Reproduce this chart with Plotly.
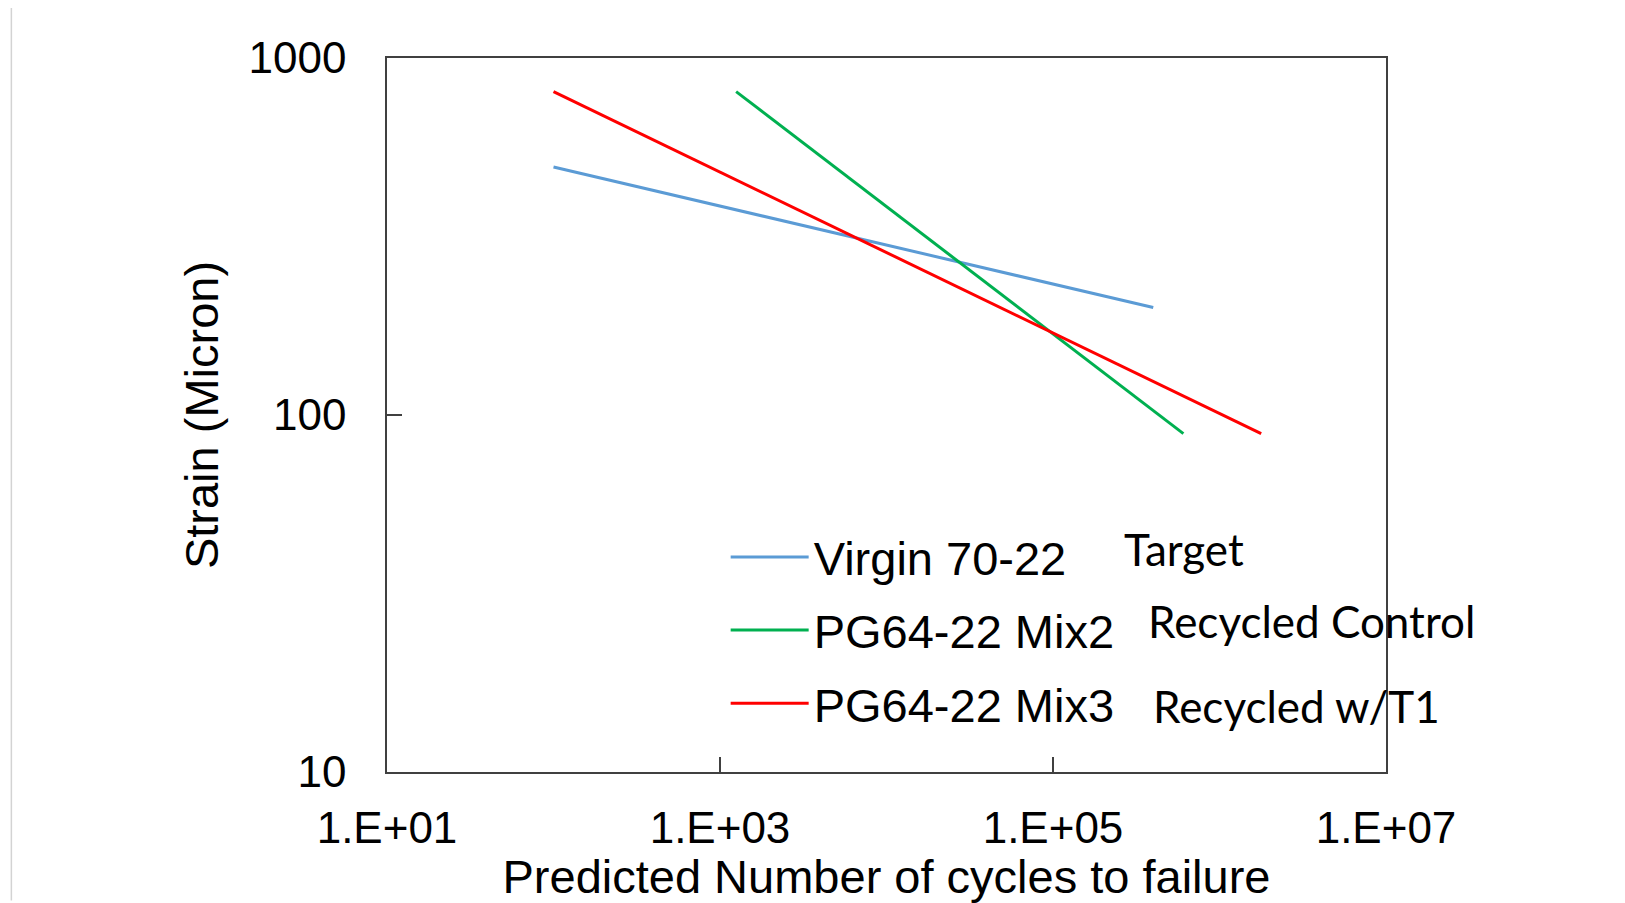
import plotly.graph_objects as go

# Data (log-log)
series_names = ["Virgin 70-22", "PG64-22 Mix2", "PG64-22 Mix3"]
virgin_cycles = [100, 4.0e5]
virgin_strain = [495, 200]
mix2_cycles = [1250, 6.07e5]
mix2_strain = [805, 88.7]
mix3_cycles = [100, 1.78e6]
mix3_strain = [805, 88.7]
colors = ["#5B9BD5", "#00B050", "#FF0000"]

x_tickvals = [1e1, 1e3, 1e5, 1e7]
x_ticktext = ["1.E+01", "1.E+03", "1.E+05", "1.E+07"]
y_tickvals = [10, 100, 1000]
y_ticktext = ["10", "100", "1000"]

notes = ["Target", "Recycled Control", "Recycled w/T1"]

AX_FONT = "Liberation Sans, Arial, sans-serif"
NOTE_FONT = "Lato, Carlito, Calibri, sans-serif"

fig = go.Figure()
for i, (name, xs, ys) in enumerate(zip(series_names,
                                       [virgin_cycles, mix2_cycles, mix3_cycles],
                                       [virgin_strain, mix2_strain, mix3_strain])):
    fig.add_trace(go.Scatter(x=xs, y=ys, mode="lines", name=name,
                             legendgroup=f"g{i}",
                             line=dict(color=colors[i], width=3)))

fig.update_layout(
    width=1625, height=903,
    margin=dict(l=387, r=239, t=58, b=131),
    paper_bgcolor="white", plot_bgcolor="white",
    font=dict(family=AX_FONT, color="black", size=44),
    showlegend=True,
    legend=dict(x=0.339, y=0.353, xanchor="left", yanchor="top",
                bgcolor="rgba(0,0,0,0)", font=dict(size=47, family=AX_FONT),
                traceorder="grouped", tracegroupgap=9, itemwidth=78),
    xaxis=dict(type="log", range=[1, 7], tickvals=x_tickvals, ticktext=x_ticktext,
               ticks="inside", ticklen=15, tickcolor="#404040", tickwidth=1.5,
               showline=True, linecolor="#404040", linewidth=1.5, mirror=True,
               showgrid=False, zeroline=False,
               tickfont=dict(size=44), ticklabelstandoff=16,
               title=dict(text="Predicted Number of cycles to failure",
                          font=dict(size=47), standoff=0)),
    yaxis=dict(type="log", range=[1, 3], tickvals=y_tickvals, ticktext=y_ticktext,
               ticks="inside", ticklen=15, tickcolor="#404040", tickwidth=1.5,
               showline=True, linecolor="#404040", linewidth=1.5, mirror=True,
               showgrid=False, zeroline=False,
               tickfont=dict(size=44), ticklabelstandoff=30,
               title=dict(text="Strain (Micron)", font=dict(size=47), standoff=15)),
)

note_pos = [(0.736, 0.312), (0.760, 0.212), (0.765, 0.093)]
for txt, (px, py) in zip(notes, note_pos):
    fig.add_annotation(text=txt, x=px, y=py, xref="paper", yref="paper",
                       xanchor="left", yanchor="middle", showarrow=False,
                       font=dict(family=NOTE_FONT, size=44, color="black"))

# thin grey border at the far left of the slide
fig.add_shape(type="line", xref="paper", yref="paper",
              x0=-0.376, x1=-0.376, y0=-0.18, y1=1.07,
              line=dict(color="#D3D3D3", width=1.5))

fig.write_html("out.html")
